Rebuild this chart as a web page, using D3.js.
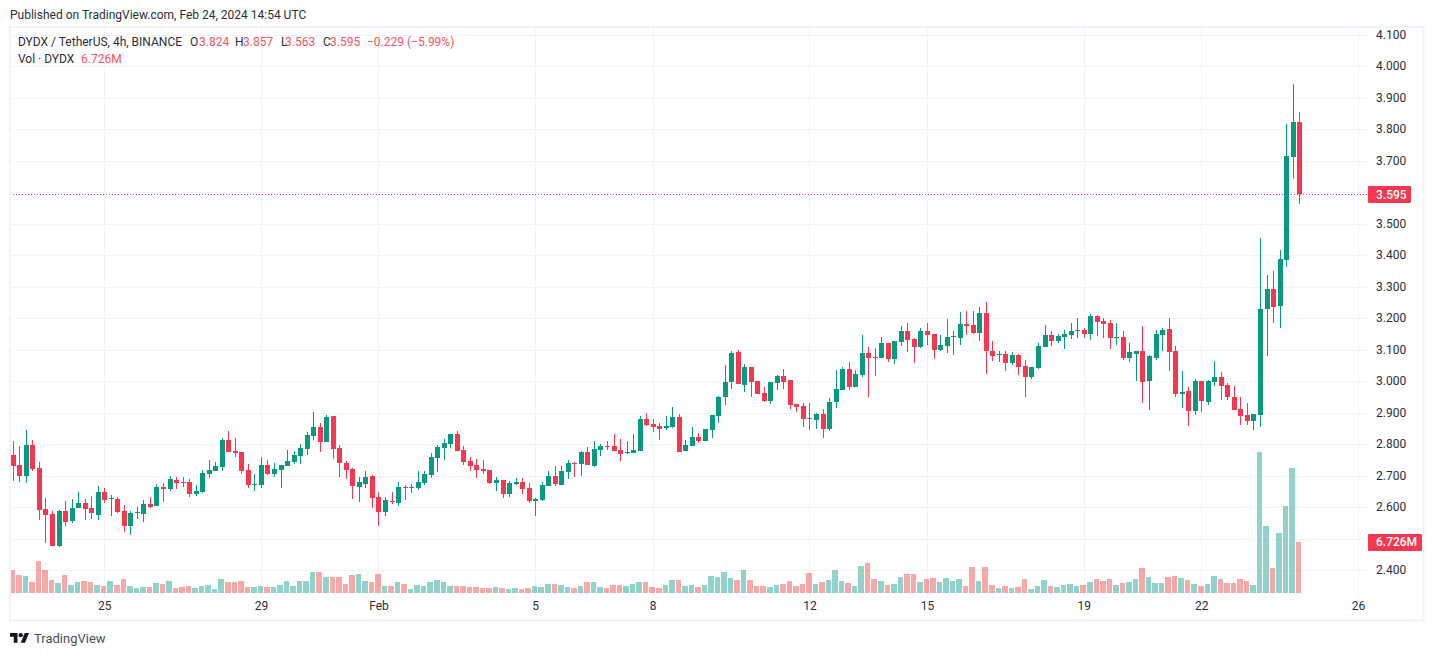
<!DOCTYPE html>
<html>
<head>
<meta charset="utf-8">
<script src="https://cdn.jsdelivr.net/npm/d3@7"></script>
<style>
    html, body { margin: 0; padding: 0; background: #fff; overflow: hidden; }
    text { font-family: Roboto, sans-serif; font-size: 12px; fill: #2a2e39; }
</style>
</head>
<body>
<svg id="chart" width="1434" height="656"></svg>
<script>
var openPrices = [
    2.768, 2.736, 2.701, 2.799, 2.726, 2.596, 2.580, 2.479, 2.590, 2.558,
    2.600, 2.615, 2.600, 2.577, 2.650, 2.628, 2.628, 2.590, 2.542, 2.584,
    2.580, 2.612, 2.606, 2.666, 2.660, 2.688, 2.682, 2.682, 2.644, 2.650,
    2.707, 2.717, 2.730, 2.815, 2.780, 2.777, 2.720, 2.673, 2.673, 2.736,
    2.707, 2.720, 2.733, 2.746, 2.765, 2.787, 2.828, 2.857, 2.809, 2.892,
    2.790, 2.742, 2.723, 2.666, 2.676, 2.701, 2.634, 2.587, 2.622, 2.615,
    2.666, 2.663, 2.663, 2.679, 2.704, 2.758, 2.790, 2.803, 2.834, 2.784,
    2.749, 2.736, 2.723, 2.720, 2.679, 2.688, 2.644, 2.676, 2.682, 2.663,
    2.622, 2.625, 2.669, 2.701, 2.673, 2.714, 2.742, 2.739, 2.777, 2.733,
    2.784, 2.796, 2.796, 2.784, 2.774, 2.774, 2.780, 2.882, 2.866, 2.860,
    2.853, 2.857, 2.888, 2.780, 2.796, 2.825, 2.812, 2.847, 2.892, 2.952,
    3.000, 3.095, 2.990, 3.047, 3.003, 2.965, 2.939, 2.996, 3.019, 3.006,
    2.930, 2.923, 2.885, 2.879, 2.898, 2.850, 2.936, 2.974, 3.041, 2.984,
    3.022, 3.092, 3.079, 3.076, 3.123, 3.071, 3.125, 3.160, 3.134, 3.109,
    3.160, 3.150, 3.099, 3.112, 3.141, 3.138, 3.182, 3.179, 3.153, 3.217,
    3.099, 3.084, 3.087, 3.058, 3.084, 3.049, 3.014, 3.042, 3.109, 3.147,
    3.128, 3.141, 3.147, 3.160, 3.163, 3.150, 3.207, 3.192, 3.185, 3.138,
    3.141, 3.074, 3.090, 3.099, 3.001, 3.074, 3.147, 3.166, 3.096, 2.960,
    2.969, 2.906, 3.001, 2.934, 2.998, 3.014, 2.988, 2.950, 2.912, 2.893,
    2.874, 2.895, 3.231, 3.295, 3.241, 3.387, 3.714, 3.824
];
var highPrices = [
    2.812, 2.796, 2.847, 2.815, 2.746, 2.631, 2.590, 2.593, 2.622, 2.628,
    2.650, 2.628, 2.638, 2.669, 2.663, 2.641, 2.634, 2.609, 2.590, 2.603,
    2.625, 2.634, 2.676, 2.679, 2.701, 2.698, 2.698, 2.692, 2.673, 2.720,
    2.752, 2.746, 2.822, 2.844, 2.822, 2.777, 2.739, 2.707, 2.761, 2.752,
    2.742, 2.736, 2.784, 2.780, 2.803, 2.841, 2.904, 2.869, 2.895, 2.892,
    2.799, 2.749, 2.726, 2.698, 2.717, 2.704, 2.650, 2.634, 2.650, 2.682,
    2.673, 2.676, 2.717, 2.717, 2.774, 2.799, 2.819, 2.834, 2.844, 2.796,
    2.761, 2.755, 2.752, 2.720, 2.698, 2.688, 2.685, 2.695, 2.695, 2.679,
    2.631, 2.682, 2.717, 2.733, 2.733, 2.752, 2.746, 2.780, 2.793, 2.812,
    2.803, 2.812, 2.834, 2.819, 2.812, 2.834, 2.892, 2.901, 2.882, 2.869,
    2.892, 2.920, 2.898, 2.815, 2.857, 2.838, 2.850, 2.895, 2.955, 3.053,
    3.098, 3.101, 3.057, 3.047, 3.003, 2.984, 3.000, 3.022, 3.041, 3.006,
    2.930, 2.933, 2.933, 2.901, 2.914, 2.949, 3.038, 3.047, 3.063, 3.038,
    3.147, 3.111, 3.107, 3.142, 3.123, 3.128, 3.176, 3.185, 3.138, 3.172,
    3.185, 3.153, 3.147, 3.198, 3.160, 3.220, 3.223, 3.223, 3.236, 3.252,
    3.128, 3.096, 3.099, 3.093, 3.087, 3.068, 3.046, 3.122, 3.179, 3.160,
    3.153, 3.163, 3.185, 3.201, 3.172, 3.214, 3.211, 3.201, 3.195, 3.185,
    3.160, 3.122, 3.099, 3.176, 3.084, 3.163, 3.169, 3.201, 3.112, 3.033,
    2.982, 3.007, 3.001, 3.004, 3.065, 3.030, 2.995, 2.985, 2.950, 2.931,
    2.896, 3.457, 3.339, 3.352, 3.419, 3.817, 3.945, 3.857
];
var lowPrices = [
    2.685, 2.682, 2.679, 2.717, 2.561, 2.488, 2.479, 2.476, 2.542, 2.552,
    2.600, 2.561, 2.565, 2.561, 2.615, 2.574, 2.584, 2.523, 2.514, 2.565,
    2.555, 2.600, 2.606, 2.619, 2.653, 2.660, 2.666, 2.634, 2.638, 2.647,
    2.695, 2.717, 2.717, 2.777, 2.761, 2.707, 2.663, 2.653, 2.663, 2.704,
    2.698, 2.663, 2.733, 2.739, 2.739, 2.768, 2.815, 2.777, 2.809, 2.755,
    2.698, 2.692, 2.628, 2.619, 2.663, 2.600, 2.542, 2.574, 2.612, 2.606,
    2.625, 2.647, 2.657, 2.673, 2.695, 2.714, 2.752, 2.790, 2.780, 2.736,
    2.717, 2.695, 2.707, 2.676, 2.653, 2.631, 2.634, 2.673, 2.644, 2.615,
    2.574, 2.622, 2.669, 2.669, 2.673, 2.692, 2.698, 2.701, 2.736, 2.730,
    2.765, 2.784, 2.780, 2.749, 2.771, 2.774, 2.780, 2.860, 2.841, 2.815,
    2.847, 2.853, 2.777, 2.780, 2.796, 2.806, 2.812, 2.822, 2.869, 2.926,
    2.977, 2.993, 2.968, 2.952, 2.961, 2.936, 2.930, 2.974, 2.977, 2.914,
    2.904, 2.857, 2.847, 2.850, 2.822, 2.844, 2.917, 2.974, 2.974, 2.984,
    3.015, 2.952, 3.019, 3.076, 3.063, 3.055, 3.112, 3.093, 3.058, 3.106,
    3.115, 3.071, 3.096, 3.090, 3.084, 3.115, 3.147, 3.153, 3.128, 3.026,
    3.065, 3.061, 3.033, 3.052, 3.020, 2.953, 3.007, 3.039, 3.109, 3.112,
    3.122, 3.103, 3.134, 3.138, 3.138, 3.131, 3.144, 3.138, 3.103, 3.115,
    3.068, 3.061, 3.001, 2.931, 2.909, 3.068, 3.099, 3.033, 2.950, 2.915,
    2.858, 2.893, 2.903, 2.925, 2.985, 2.941, 2.941, 2.909, 2.861, 2.861,
    2.846, 2.857, 3.082, 3.187, 3.171, 3.365, 3.644, 3.563
];
var closePrices = [
    2.733, 2.701, 2.799, 2.723, 2.593, 2.577, 2.479, 2.590, 2.555, 2.600,
    2.615, 2.596, 2.584, 2.650, 2.625, 2.631, 2.587, 2.542, 2.584, 2.587,
    2.612, 2.603, 2.666, 2.660, 2.692, 2.679, 2.679, 2.644, 2.653, 2.711,
    2.720, 2.733, 2.815, 2.777, 2.774, 2.717, 2.673, 2.676, 2.736, 2.707,
    2.723, 2.736, 2.749, 2.768, 2.790, 2.831, 2.857, 2.809, 2.888, 2.787,
    2.742, 2.720, 2.669, 2.682, 2.698, 2.631, 2.587, 2.625, 2.619, 2.666,
    2.663, 2.666, 2.682, 2.707, 2.761, 2.793, 2.806, 2.834, 2.780, 2.746,
    2.733, 2.720, 2.717, 2.679, 2.688, 2.644, 2.679, 2.682, 2.660, 2.622,
    2.628, 2.673, 2.701, 2.676, 2.717, 2.742, 2.739, 2.777, 2.736, 2.787,
    2.796, 2.793, 2.780, 2.771, 2.777, 2.784, 2.882, 2.863, 2.857, 2.850,
    2.860, 2.888, 2.777, 2.799, 2.825, 2.812, 2.850, 2.895, 2.952, 3.000,
    3.092, 2.993, 3.047, 2.999, 2.961, 2.939, 3.000, 3.019, 3.000, 2.926,
    2.920, 2.882, 2.882, 2.898, 2.850, 2.936, 2.977, 3.041, 2.984, 3.025,
    3.092, 3.076, 3.076, 3.123, 3.072, 3.128, 3.160, 3.131, 3.109, 3.160,
    3.147, 3.099, 3.115, 3.141, 3.144, 3.182, 3.176, 3.153, 3.217, 3.096,
    3.084, 3.087, 3.058, 3.084, 3.046, 3.014, 3.046, 3.112, 3.147, 3.128,
    3.144, 3.150, 3.160, 3.163, 3.150, 3.207, 3.188, 3.182, 3.138, 3.141,
    3.074, 3.093, 3.099, 3.001, 3.080, 3.150, 3.163, 3.093, 2.960, 2.966,
    2.906, 3.001, 2.938, 3.001, 3.014, 2.985, 2.950, 2.909, 2.890, 2.874,
    2.896, 3.231, 3.295, 3.238, 3.390, 3.717, 3.825, 3.595
];
// volumes in millions
var volumes = [
    3.03, 2.37, 2.24, 1.45, 4.22, 3.03, 1.71, 1.32, 2.37, 1.06,
    1.45, 1.58, 1.45, 1.06, 0.92, 1.58, 1.06, 1.85, 0.92, 0.66,
    0.79, 0.79, 1.32, 1.19, 1.58, 0.66, 0.79, 0.92, 0.66, 0.92,
    1.06, 0.53, 1.85, 1.45, 1.45, 1.58, 0.79, 0.79, 0.92, 0.79,
    0.79, 1.06, 1.58, 0.92, 1.58, 1.58, 2.77, 2.77, 2.11, 2.11,
    2.11, 1.19, 2.37, 2.51, 1.58, 1.45, 2.51, 0.92, 0.92, 1.45,
    1.19, 0.53, 1.06, 0.92, 1.45, 1.71, 1.45, 0.92, 0.92, 0.92,
    0.79, 0.79, 0.66, 0.66, 0.79, 0.66, 0.53, 0.66, 0.53, 0.66,
    0.92, 0.79, 1.19, 1.19, 1.06, 0.79, 0.66, 0.92, 1.45, 1.45,
    0.79, 0.66, 1.06, 1.06, 0.92, 1.19, 1.45, 1.45, 0.79, 0.66,
    1.06, 1.71, 1.71, 0.92, 1.06, 0.79, 1.06, 2.24, 2.11, 2.77,
    1.98, 1.71, 3.03, 1.71, 0.92, 0.92, 0.79, 1.06, 1.19, 1.58,
    0.92, 1.19, 2.64, 1.19, 1.45, 1.71, 3.03, 1.58, 1.32, 0.92,
    3.56, 3.96, 1.85, 1.58, 1.06, 1.19, 2.11, 2.51, 2.51, 1.45,
    1.85, 1.98, 1.45, 1.98, 1.58, 1.85, 0.92, 3.43, 1.58, 3.43,
    1.06, 0.66, 0.92, 0.66, 0.79, 1.85, 0.53, 0.92, 1.71, 0.92,
    0.79, 1.06, 1.19, 0.92, 1.06, 1.45, 1.85, 1.58, 1.85, 1.06,
    1.32, 1.45, 1.85, 3.30, 2.11, 1.32, 1.32, 2.11, 2.24, 1.98,
    1.71, 1.19, 0.92, 1.19, 2.24, 1.85, 1.32, 1.32, 1.85, 1.58,
    1.06, 18.6, 8.84, 3.30, 7.91, 11.47, 16.49, 6.726
];
var priceTicks = [4.1, 4.0, 3.9, 3.8, 3.7, 3.6, 3.5, 3.4, 3.3, 3.2, 3.1, 3.0, 2.9, 2.8, 2.7, 2.6, 2.5, 2.4];
var hiddenPriceLabels = [3.6, 2.5]; // covered by the tags
var timeTicks = [14, 38, 56, 80, 98, 122, 140, 164, 182, 206]; // candle index of each day
var timeLabels = ["25", "29", "Feb", "5", "8", "12", "15", "19", "22", "26"];

var GREEN = "#089981", RED = "#f7374f", LEGEND_RED = "#f7525f", GRID = "#f3f3f5", FRAME = "#f0f3fa";

var svg = d3.select("#chart");
var data = d3.range(openPrices.length);

var x = d3.scaleLinear().domain([0, data.length - 1]).range([13.3, 1299.7]);
var y = d3.scaleLinear().domain([2.4, 4.1]).range([570.7, 35.2]);
var volY = d3.scaleLinear().domain([0, 18.6]).range([593, 452]);

function isUp(i) { return closePrices[i] >= openPrices[i]; }

// grid
var grid = svg.append("g").attr("shape-rendering", "crispEdges");
grid.selectAll("line.h").data(priceTicks).enter().append("line")
    .attr("class", "h")
    .attr("x1", 10).attr("x2", 1368)
    .attr("y1", function (d) { return Math.floor(y(d)) + 0.5; })
    .attr("y2", function (d) { return Math.floor(y(d)) + 0.5; })
    .attr("stroke", GRID);
grid.selectAll("line.v").data(timeTicks).enter().append("line")
    .attr("class", "v")
    .attr("x1", function (d) { return Math.floor(x(d)) + 0.5; })
    .attr("x2", function (d) { return Math.floor(x(d)) + 0.5; })
    .attr("y1", 28).attr("y2", 598)
    .attr("stroke", GRID);

// volume bars
svg.append("g").attr("shape-rendering", "crispEdges")
    .selectAll("rect").data(data).enter().append("rect")
    .attr("x", function (i) { return Math.floor(x(i - 0.5)); })
    .attr("width", function (i) { return Math.floor(x(i + 0.5)) - 1 - Math.floor(x(i - 0.5)); })
    .attr("y", function (i) { return volY(volumes[i]); })
    .attr("height", function (i) { return volY(0) - volY(volumes[i]); })
    .attr("fill", function (i) { return isUp(i) ? "#26a69a" : "#ef5350"; })
    .attr("fill-opacity", 0.5);

// candles
var candles = svg.append("g").attr("shape-rendering", "crispEdges")
    .selectAll("g").data(data).enter().append("g")
    .attr("fill", function (i) { return isUp(i) ? GREEN : RED; });
candles.append("rect")
    .attr("x", function (i) { return Math.floor(x(i)); })
    .attr("width", 1)
    .attr("y", function (i) { return y(highPrices[i]); })
    .attr("height", function (i) { return y(lowPrices[i]) - y(highPrices[i]); });
candles.append("rect")
    .attr("x", function (i) { return Math.floor(x(i)) - 2; })
    .attr("width", 5)
    .attr("y", function (i) { return Math.round(y(Math.max(openPrices[i], closePrices[i]))); })
    .attr("height", function (i) {
        return Math.max(1, Math.round(Math.abs(y(openPrices[i]) - y(closePrices[i]))));
    });

// last price line
var lastPrice = closePrices[closePrices.length - 1];
svg.append("line")
    .attr("x1", 10).attr("x2", 1368)
    .attr("y1", Math.floor(y(lastPrice)) + 0.5).attr("y2", Math.floor(y(lastPrice)) + 0.5)
    .attr("stroke", RED).attr("stroke-dasharray", "1 2");

// frame
svg.append("rect")
    .attr("x", 10).attr("y", 27).attr("width", 1413.5).attr("height", 593.5)
    .attr("fill", "none").attr("stroke", FRAME).attr("stroke-width", 2);

// price axis labels
svg.append("g").selectAll("text")
    .data(priceTicks.filter(function (d) { return hiddenPriceLabels.indexOf(d) < 0; }))
    .enter().append("text")
    .attr("x", 1376).attr("y", function (d) { return y(d) - 0.8; })
    .attr("dy", "0.36em")
    .text(function (d) { return d3.format(".3f")(d); });

// time axis labels
svg.append("g").selectAll("text").data(timeTicks).enter().append("text")
    .attr("x", function (d) { return x(d); })
    .attr("y", 606).attr("dy", "0.36em")
    .attr("text-anchor", "middle")
    .text(function (d, i) { return timeLabels[i]; });

// value tags on the price scale
var tags = [
    { cy: y(lastPrice), w: 43, label: d3.format(".3f")(lastPrice) },
    { cy: volY(volumes[volumes.length - 1]), w: 54, label: d3.format(".3f")(volumes[volumes.length - 1]) + "M" }
];
var tag = svg.append("g").selectAll("g").data(tags).enter().append("g");
tag.append("rect")
    .attr("x", 1368).attr("y", function (d) { return Math.round(d.cy) - 8; })
    .attr("width", function (d) { return d.w; }).attr("height", 17)
    .attr("rx", 1).attr("fill", RED);
tag.append("text")
    .attr("x", 1376).attr("y", function (d) { return d.cy; })
    .attr("dy", "0.36em")
    .style("fill", "#fff").style("font-weight", 500)
    .text(function (d) { return d.label; });

// header and legend
function legendText(px, py, str, color) {
    svg.append("text").attr("x", px).attr("y", py).attr("dy", "0.36em")
        .style("fill", color || "#2a2e39").text(str);
}
legendText(10, 15, "Published on TradingView.com, Feb 24, 2024 14:54 UTC");
legendText(18, 42, "DYDX / TetherUS, 4h, BINANCE");
legendText(190, 42, "O");
legendText(199, 42, "3.824", LEGEND_RED);
legendText(235, 42, "H");
legendText(243, 42, "3.857", LEGEND_RED);
legendText(281, 42, "L");
legendText(285, 42, "3.563", LEGEND_RED);
legendText(323, 42, "C");
legendText(330, 42, "3.595", LEGEND_RED);
legendText(367, 42, "\u22120.229", LEGEND_RED);
legendText(407, 42, "(\u22125.99%)", LEGEND_RED);
legendText(18, 59, "Vol \u00b7 DYDX");
legendText(81, 59, "6.726M", LEGEND_RED);

// logo
var logo = svg.append("g").attr("transform", "translate(10,630.9) scale(0.536)").attr("fill", "#131722");
logo.append("path").attr("d", "M14 22H7V11H0V4h14v18zM28 22h-8l7.5-18h8L28 22z");
logo.append("circle").attr("cx", 20).attr("cy", 8).attr("r", 4);
svg.append("text").attr("x", 34).attr("y", 638).attr("dy", "0.36em")
    .style("fill", "#4a4e59").style("font-size", "13px").text("TradingView");
</script>
</body>
</html>
